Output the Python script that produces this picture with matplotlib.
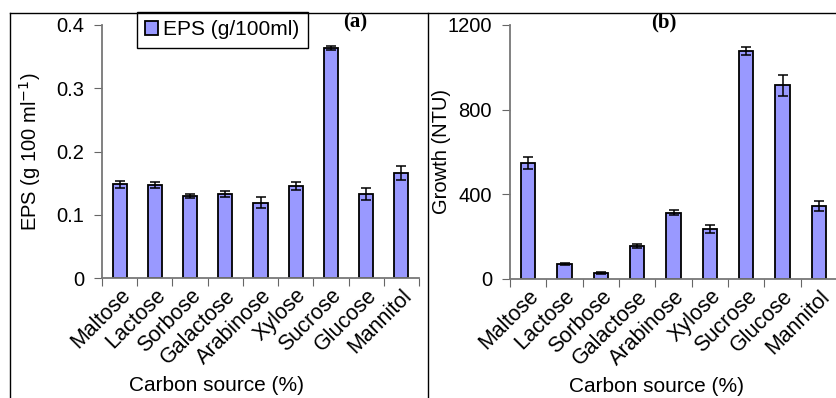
import matplotlib.pyplot as plt
import numpy as np
from matplotlib.lines import Line2D
from matplotlib.ticker import FuncFormatter

sugars = ["Maltose", "Lactose", "Sorbose", "Galactose", "Arabinose",
          "Xylose", "Sucrose", "Glucose", "Mannitol"]
eps = [0.148, 0.147, 0.130, 0.133, 0.119, 0.145, 0.364, 0.133, 0.166]
eps_err = [0.005, 0.005, 0.003, 0.005, 0.009, 0.006, 0.003, 0.009, 0.011]
growth = [548, 70, 30, 155, 313, 237, 1078, 915, 345]
growth_err = [30, 5, 5, 10, 12, 20, 20, 50, 25]

plt.rcParams['font.family'] = ['Liberation Sans', 'DejaVu Sans']
BAR = "#9999ff"
W, H = 836, 398
FS = 14.5

fig = plt.figure(figsize=(W / 100, H / 100), dpi=100)


def make_axes(x0, x1, y0, y1):
    return fig.add_axes([x0 / W, 1 - y1 / H, (x1 - x0) / W, (y1 - y0) / H])


def style(ax, vals, errs, ymax, yticks, ylabel, tag, tag_x, ylab_x, xlab_x):
    x = np.arange(len(vals))
    bars = ax.bar(x, vals, width=0.4, color=BAR, edgecolor="black",
                  linewidth=1.3, yerr=errs, capsize=3.5,
                  error_kw=dict(elinewidth=1.1, capthick=1.1, ecolor="black"))
    ax.set_xlim(-0.5, len(vals) - 0.5)
    ax.set_ylim(0, ymax)
    ax.set_yticks(yticks)
    ax.yaxis.set_major_formatter(FuncFormatter(lambda v, p: "%g" % v))
    ax.set_xticks(np.arange(len(vals) + 1) - 0.5)
    ax.set_xticklabels([])
    ax.set_xticks(x, minor=True)
    ax.set_xticklabels(sugars, minor=True, rotation=45, ha="right",
                       rotation_mode="anchor", fontsize=15.5)
    ax.tick_params(axis="x", which="minor", length=0, pad=5)
    ax.tick_params(axis="x", which="major", length=6, direction="out",
                   color="#666666")
    ax.tick_params(axis="y", length=6, direction="out", color="#666666",
                   labelsize=FS, pad=7)
    for s in ["top", "right"]:
        ax.spines[s].set_visible(False)
    for s in ["left", "bottom"]:
        ax.spines[s].set_color("#777777")
        ax.spines[s].set_linewidth(1.3)
    ax.set_ylabel(ylabel, fontsize=FS, va="center")
    ax.yaxis.set_label_coords(ylab_x, 0.5)
    ax.set_xlabel("Carbon source (%)", fontsize=15, va="center")
    ax.xaxis.set_label_coords(xlab_x, -0.423)
    ax.text(tag_x, 1.01, tag, transform=ax.transAxes, ha="center",
            va="center", fontsize=15, fontweight="bold",
            family="Liberation Serif")
    return bars


ax1 = make_axes(102, 419, 25, 278)
bars = style(ax1, eps, eps_err, 0.4, [0, 0.1, 0.2, 0.3, 0.4],
             "EPS (g 100 ml$^{-1}$)", "(a)", 0.8, -0.227, 0.36)
leg = ax1.legend([bars], ["EPS (g/100ml)"], loc="upper left",
                 bbox_to_anchor=(137 / W, 1 - 12 / H),
                 bbox_transform=fig.transFigure, fontsize=15,
                 fancybox=False, framealpha=1, edgecolor="black",
                 handlelength=0.6, handleheight=0.6, handletextpad=0.25,
                 borderpad=0.4, borderaxespad=0)
leg.get_frame().set_linewidth(1.0)

ax2 = make_axes(510, 837, 25, 279)
style(ax2, growth, growth_err, 1200, [0, 400, 800, 1200],
      "Growth (NTU)", "(b)", 0.47, -0.211, 0.447)

# panel borders
ty = 1 - 12.5 / H
fig.add_artist(Line2D([10 / W, 1], [ty, ty], color="black", lw=1.0))
fig.add_artist(Line2D([10 / W, 10 / W], [0, ty], color="black", lw=1.0))
fig.add_artist(Line2D([428 / W, 428 / W], [0, ty], color="black", lw=1.0))

fig.savefig("out.png", dpi=100)
